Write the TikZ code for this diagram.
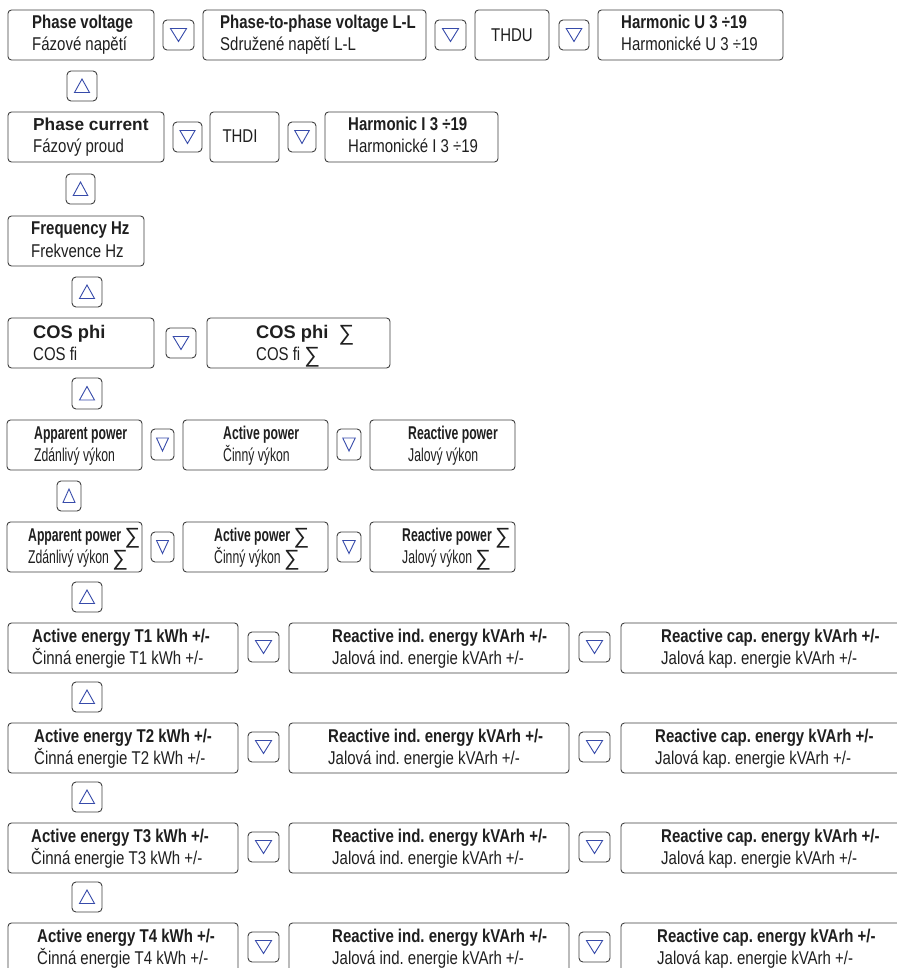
\documentclass[tikz,border=0pt]{standalone}
\usepackage{fontspec}
\setmainfont{Liberation Sans}[FakeStretch=0.81]
\newfontfamily\fullfont{Liberation Sans}
\newfontfamily\narrowfont{Liberation Sans}[FakeStretch=0.66]
\begin{document}
\frenchspacing
\begin{tikzpicture}[x=1pt,y=-1pt,
  box/.style={draw=black!75, line width=0.9pt, rounded corners=3.5pt, inner sep=0pt, fill=white},
  btn/.style={draw=black!75, line width=0.9pt, rounded corners=4pt, inner sep=0pt, fill=white},
  tri/.style={draw={rgb,255:red,55;green,75;blue,170}, line width=0.9pt, line join=miter},
  ttl/.style={anchor=base west, inner sep=0pt, text=black!88, font=\fontsize{18.5}{20}\selectfont\bfseries},
  sub/.style={anchor=base west, inner sep=0pt, text=black!88, font=\fontsize{18.5}{20}\selectfont},
  ttln/.style={anchor=base west, inner sep=0pt, text=black!88, font=\narrowfont\fontsize{18.5}{20}\selectfont\bfseries},
  subn/.style={anchor=base west, inner sep=0pt, text=black!88, font=\narrowfont\fontsize{18.5}{20}\selectfont},
  one/.style={anchor=base, inner sep=0pt, text=black!88, font=\fontsize{18.5}{20}\selectfont}]
\newcommand\mybox[5]{\node[box, minimum width={(#4-#2)*1pt}, minimum height={(#5-#3)*1pt}] (#1) at ({(#2+#4)/2},{(#3+#5)/2}) {};}
\newcommand\downbtn[5]{\node[btn, minimum width={(#4-#2)*1pt}, minimum height={(#5-#3)*1pt}] (#1) at ({(#2+#4)/2},{(#3+#5)/2}) {};
  \draw[tri] ([shift={({-(#4-#2)*0.26},-6.5)}]#1.center) -- ([shift={({(#4-#2)*0.26},-6.5)}]#1.center) -- ([shift={(0,6.5)}]#1.center) -- cycle;}
\newcommand\upbtn[5]{\node[btn, minimum width={(#4-#2)*1pt}, minimum height={(#5-#3)*1pt}] (#1) at ({(#2+#4)/2},{(#3+#5)/2}) {};
  \draw[tri] ([shift={({-(#4-#2)*0.25},6.5)}]#1.center) -- ([shift={({(#4-#2)*0.25},6.5)}]#1.center) -- ([shift={(0,-7)}]#1.center) -- cycle;}
\newcommand\twoline[5]{\node[ttl] (#1a) at (#2,{#3+19}) {#4}; \node[sub] (#1b) at (#2,{#3+41}) {#5};}
\newcommand\twolinen[5]{\node[ttln] (#1a) at (#2,{#3+19}) {#4}; \node[subn] (#1b) at (#2,{#3+41}) {#5};}
\newcommand\sm{\raisebox{-2pt}{\fullfont\mdseries\fontsize{22}{22}\selectfont ∑}}

\fill[white] (0,0) rectangle (896,968);
\useasboundingbox (0,0) rectangle (896,968);

% Row 1
\mybox{pv}{8}{10}{154}{60}\twoline{pvt}{32}{10}{Phase voltage}{Fázové napětí}
\downbtn{d1}{163}{20}{194}{50}
\mybox{ppv}{203}{10}{426}{60}\twoline{ppvt}{220}{10}{Phase-to-phase voltage L-L}{Sdružené napětí L-L}
\downbtn{d2}{435}{20}{466}{50}
\mybox{thdu}{475}{10}{549}{60}\node[one] (thdut) at (512,42) {THDU};
\downbtn{d3}{559}{20}{589}{50}
\mybox{hu}{598}{10}{783}{60}\twoline{hut}{621}{10}{Harmonic U 3 ÷19}{Harmonické U 3 ÷19}
\upbtn{u1}{67}{71}{97}{101}

% Row 2
\mybox{pc}{8}{112}{164}{162}
\node[ttl, font=\fullfont\fontsize{17.3}{20}\selectfont\bfseries] (pcta) at (33,131) {Phase current};
\node[sub] (pctb) at (33,153) {Fázový proud};
\downbtn{d4}{173}{122}{202}{152}
\mybox{thdi}{210}{112}{279}{162}\node[one] (thdit) at (240,143) {THDI};
\downbtn{d5}{288}{122}{316}{152}
\mybox{hi}{325}{112}{498}{162}\twoline{hit}{348}{112}{Harmonic I 3 ÷19}{Harmonické I 3 ÷19}
\upbtn{u2}{66}{174}{95}{204}

% Row 3
\mybox{fr}{8}{216}{144}{266}\twoline{frt}{31}{216}{Frequency Hz}{Frekvence Hz}
\upbtn{u3}{72}{277}{102}{307}

% Row 4
\mybox{cp}{8}{318}{154}{368}
\node[ttl, font=\fullfont\fontsize{18.3}{20}\selectfont\bfseries] (cpta) at (33,338) {COS phi};
\node[sub] (cptb) at (33,360) {COS fi};
\downbtn{d6}{166}{328}{196}{358}
\mybox{cps}{207}{318}{390}{368}
\node[ttl, font=\fullfont\fontsize{18.3}{20}\selectfont\bfseries] (cpsta) at (256,338) {COS phi\ \ \sm};
\node[sub] (cpstb) at (256,360) {COS fi \sm};
\upbtn{u4}{72}{378}{102}{409}

% Row 5
\mybox{ap}{7}{420}{142}{470}\twolinen{apt}{34}{420}{Apparent power}{Zdánlivý výkon}
\downbtn{d7}{151}{429}{174}{460}
\mybox{acp}{183}{420}{328}{470}\twolinen{acpt}{223}{420}{Active power}{Činný výkon}
\downbtn{d8}{337}{429}{361}{460}
\mybox{rp}{370}{420}{515}{470}\twolinen{rpt}{408}{420}{Reactive power}{Jalový výkon}
\upbtn{u5}{57}{481}{81}{511}

% Row 6
\mybox{aps}{7}{522}{142}{572}\twolinen{apst}{28}{522}{Apparent power \sm}{Zdánlivý výkon \sm}
\downbtn{d9}{151}{532}{174}{562}
\mybox{acps}{183}{522}{328}{572}\twolinen{acpst}{214}{522}{Active power \sm}{Činný výkon \sm}
\downbtn{d10}{337}{532}{361}{562}
\mybox{rps}{370}{522}{515}{572}\twolinen{rpst}{402}{522}{Reactive power \sm}{Jalový výkon \sm}
\upbtn{u6}{72}{582}{102}{612}

% Row 7
\mybox{ea}{8}{623}{238}{673}\twoline{eat}{32}{623}{Active energy T1 kWh +/-}{Činná energie T1 kWh +/-}
\downbtn{d11}{248}{632}{279}{662}
\mybox{ria}{289}{623}{569}{673}\twoline{riat}{332}{623}{Reactive ind. energy kVArh +/-}{Jalová ind. energie kVArh +/-}
\downbtn{d12}{579}{632}{610}{662}
\mybox{rca}{621}{623}{902}{673}\twoline{rcat}{661}{623}{Reactive cap. energy kVArh +/-}{Jalová kap. energie kVArh +/-}
\upbtn{u7}{72}{682}{102}{712}

% Row 8
\mybox{eb}{8}{723}{238}{773}\twoline{ebt}{34}{723}{Active energy T2 kWh +/-}{Činná energie T2 kWh +/-}
\downbtn{d13}{248}{732}{279}{762}
\mybox{rib}{289}{723}{569}{773}\twoline{ribt}{328}{723}{Reactive ind. energy kVArh +/-}{Jalová ind. energie kVArh +/-}
\downbtn{d14}{579}{732}{610}{762}
\mybox{rcb}{621}{723}{902}{773}\twoline{rcbt}{655}{723}{Reactive cap. energy kVArh +/-}{Jalová kap. energie kVArh +/-}
\upbtn{u8}{72}{782}{102}{812}

% Row 9
\mybox{ec}{8}{823}{238}{873}\twoline{ect}{31}{823}{Active energy T3 kWh +/-}{Činná energie T3 kWh +/-}
\downbtn{d15}{248}{832}{279}{862}
\mybox{ric}{289}{823}{569}{873}\twoline{rict}{332}{823}{Reactive ind. energy kVArh +/-}{Jalová ind. energie kVArh +/-}
\downbtn{d16}{579}{832}{610}{862}
\mybox{rcc}{621}{823}{902}{873}\twoline{rcct}{661}{823}{Reactive cap. energy kVArh +/-}{Jalová kap. energie kVArh +/-}
\upbtn{u9}{72}{882}{102}{912}

% Row 10
\mybox{ed}{8}{923}{238}{975}\twoline{edt}{37}{923}{Active energy T4 kWh +/-}{Činná energie T4 kWh +/-}
\downbtn{d17}{248}{932}{279}{962}
\mybox{rid}{289}{923}{569}{975}\twoline{ridt}{332}{923}{Reactive ind. energy kVArh +/-}{Jalová ind. energie kVArh +/-}
\downbtn{d18}{579}{932}{610}{962}
\mybox{rcd}{621}{923}{902}{975}\twoline{rcdt}{657}{923}{Reactive cap. energy kVArh +/-}{Jalová kap. energie kVArh +/-}
\end{tikzpicture}
\end{document}
